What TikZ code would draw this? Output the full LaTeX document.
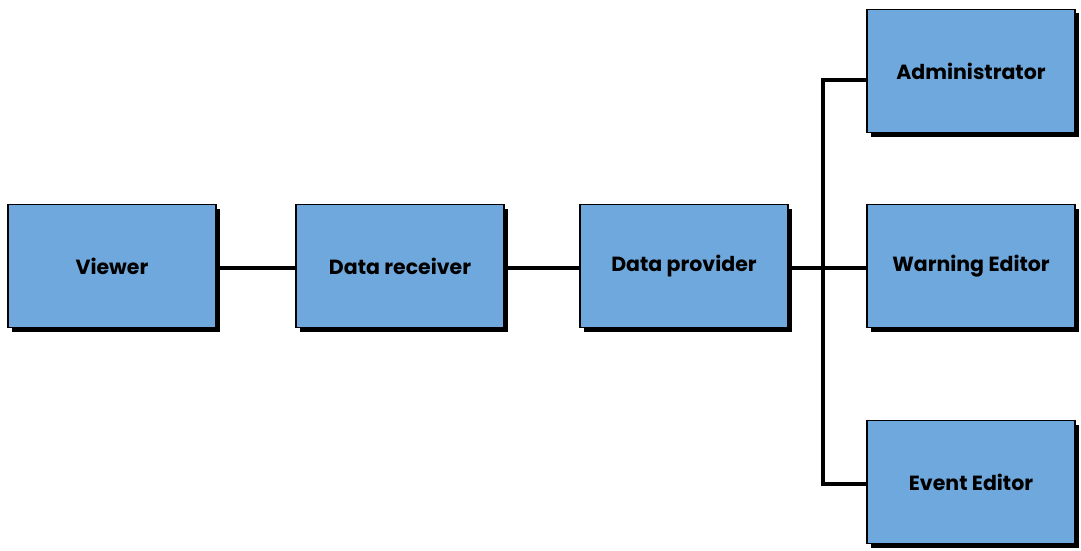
\documentclass[tikz,border=0pt]{standalone}
\usepackage{fontspec}
\setmainfont{Poppins}
\usetikzlibrary{shadows}
\definecolor{boxblue}{HTML}{6FA8DC}
\tikzset{
  block/.style={draw=black, line width=1.5pt, fill=boxblue,
    minimum width=208pt, minimum height=123pt, inner sep=0pt,
    font=\fontsize{20.5}{24}\selectfont\bfseries,
    drop shadow={shadow xshift=4pt, shadow yshift=-4pt, fill=black, opacity=1}},
  wire/.style={line width=4pt}
}
\begin{document}
\begin{tikzpicture}[x=1pt,y=-1pt]
  \useasboundingbox (0,0) rectangle (1081,551);
  % boxes
  \node[block] (viewer) at (112,266) {Viewer};
  \node[block] (receiver) at (400,266) {Data receiver};
  \node[block] (provider) at (684,266) {Data provider};
  \node[block] (admin) at (971,71) {Administrator};
  \node[block] (warning) at (971,266) {Warning Editor};
  \node[block] (event) at (971,482) {Event Editor};
  \coordinate (bus) at (823,268);
  % connectors
  \draw[wire] ([yshift=-2pt]viewer.east) -- ([yshift=-2pt]receiver.west);
  \draw[wire] ([yshift=-2pt]receiver.east) -- ([yshift=-2pt]provider.west);
  \draw[wire] (provider.east |- bus) -- (warning.west |- bus);
  \draw[wire] ([yshift=-9pt]admin.west) -| (bus) |- ([yshift=-2pt]event.west);
\end{tikzpicture}
\end{document}
